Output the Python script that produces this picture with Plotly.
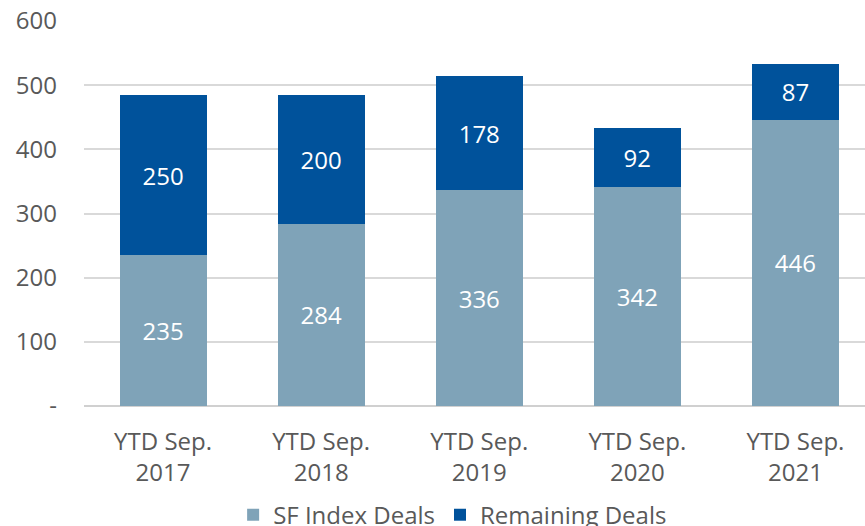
import plotly.graph_objects as go

categories = ["YTD Sep.<br>2017", "YTD Sep.<br>2018", "YTD Sep.<br>2019", "YTD Sep.<br>2020", "YTD Sep.<br>2021"]
sf_index = [235, 284, 336, 342, 446]
remaining = [250, 200, 178, 92, 87]
y_tickvals = [0, 100, 200, 300, 400, 500, 600]
y_ticktext = ["-", "100", "200", "300", "400", "500", "600"]

FONT = "Open Sans"
TXT = "#595959"
FS = 24

fig = go.Figure()
fig.add_trace(go.Bar(
    x=categories, y=sf_index, name="SF Index Deals",
    marker=dict(color="#7FA3B8", line=dict(width=0)),
    text=sf_index, textposition="inside", insidetextanchor="middle",
    textfont=dict(color="white", size=FS, family=FONT),
    constraintext="none", width=0.55,
))
fig.add_trace(go.Bar(
    x=categories, y=remaining, name="Remaining Deals",
    marker=dict(color="#00529B", line=dict(width=0)),
    text=remaining, textposition="inside", insidetextanchor="middle",
    textfont=dict(color="white", size=FS, family=FONT),
    constraintext="none", width=0.55,
))

fig.update_layout(
    barmode="stack",
    width=865, height=526,
    margin=dict(l=84, r=0, t=21, b=120, autoexpand=False),
    paper_bgcolor="white", plot_bgcolor="white",
    font=dict(family=FONT, color=TXT, size=FS),
    showlegend=True,
    legend=dict(orientation="h", x=0.472, xanchor="center", y=-0.225, yanchor="top",
                font=dict(size=FS, color=TXT, family=FONT), traceorder="normal"),
    xaxis=dict(range=[-0.5, 4.44], showgrid=False, showline=False, ticks="",
               tickfont=dict(size=FS, color=TXT), automargin=False,
               ticklabelstandoff=19),
    yaxis=dict(range=[0, 600], tickvals=y_tickvals, ticktext=y_ticktext,
               showgrid=True, gridcolor="#d9d9d9", gridwidth=1.5,
               zeroline=True, zerolinecolor="#d0d0d0", zerolinewidth=2,
               showline=False, ticks="", ticklabelstandoff=26,
               tickfont=dict(size=FS, color=TXT), automargin=False),
)

fig.write_html("out.html", config={"displayModeBar": False},
               post_script="document.body.style.margin='0';document.body.style.overflow='hidden';")
